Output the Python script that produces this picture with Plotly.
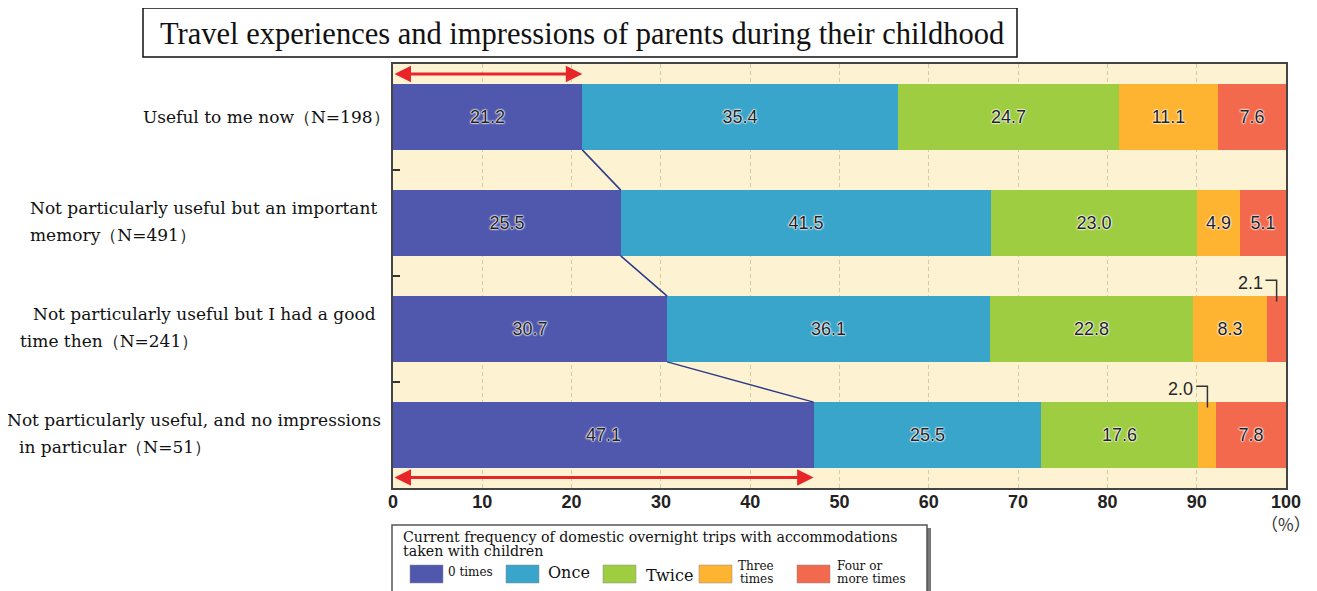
import plotly.graph_objects as go

# ---------------- data ----------------
categories = [
    "Useful to me now（N=198）",
    "Not particularly useful but an important memory（N=491）",
    "Not particularly useful but I had a good time then（N=241）",
    "Not particularly useful, and no impressions in particular（N=51）",
]
label_lines = [
    ["Useful to me now（N=198）"],
    ["Not particularly useful but an important", "memory（N=491）"],
    ["Not particularly useful but I had a good", "time then（N=241）"],
    ["Not particularly useful, and no impressions", "in particular（N=51）"],
]
series_names = ["0 times", "Once", "Twice", "Three times", "Four or more times"]
legend_labels = [["0 times"], ["Once"], ["Twice"], ["Three", "times"], ["Four or", "more times"]]
zero_times = [21.2, 25.5, 30.7, 47.1]
once = [35.4, 41.5, 36.1, 25.5]
twice = [24.7, 23.0, 22.8, 17.6]
three_times = [11.1, 4.9, 8.3, 2.0]
four_plus = [7.6, 5.1, 2.1, 7.8]
x_ticks = [0, 10, 20, 30, 40, 50, 60, 70, 80, 90, 100]
title_text = "Travel experiences and impressions of parents during their childhood"
legend_title = ["Current frequency of domestic overnight trips with accommodations",
                "taken with children"]

# ---------------- style ----------------
colors = ["#5058ae", "#3aa5ca", "#9fcd42", "#ffb431", "#f3694d"]
OFF = 8                      # page body margin
W, H = 1317 - OFF, 591 - OFF
SL, ST, PW, PH = 393, 64, 893, 424   # plot area in screen pixels
L, T = SL - OFF, ST - OFF
BAR_W = 0.62
SERIF = "DejaVu Serif"
SANS = "Liberation Sans, Arial, sans-serif"
SMALL = 3.0  # segments narrower than this get a callout


def px_x(p):
    return (p - SL) / PW


def px_y(p):
    return (ST + PH - p) / PH


series = [zero_times, once, twice, three_times, four_plus]
rows = list(range(len(categories)))

fig = go.Figure()
halo = "0 0 2px #fff, 0 0 2px #fff, 0 0 2px #fff, 0 0 1px #fff"
for name, vals, col in zip(series_names, series, colors):
    fig.add_trace(go.Bar(
        y=rows, x=vals, orientation="h", name=name, width=BAR_W,
        marker=dict(color=col, line=dict(width=0)),
        text=[f"{v:.1f}" if v >= SMALL else "" for v in vals],
        textposition="inside", insidetextanchor="middle", textangle=0,
        insidetextfont=dict(family=SANS, size=18, color="#222", shadow=halo),
        hovertext=categories, showlegend=False,
    ))

# connector lines between the right ends of the "0 times" segments
cx, cy = [], []
for i in range(len(rows) - 1):
    cx += [zero_times[i], zero_times[i + 1], None]
    cy += [rows[i] + BAR_W / 2, rows[i + 1] - BAR_W / 2, None]
fig.add_trace(go.Scatter(x=cx, y=cy, mode="lines", line=dict(color="#2c3a8a", width=1.5),
                         showlegend=False, hoverinfo="skip"))

shapes = []
annotations = []

# callouts for narrow segments
for ri in rows:
    start = 0.0
    for si, vals in enumerate(series):
        v = vals[ri]
        if v < SMALL:
            xc = start + v / 2
            top = ri - BAR_W / 2
            yh = top - 0.15
            shapes.append(dict(type="path", xref="x", yref="y",
                               path=f"M {xc - 1.25},{yh} L {xc},{yh} L {xc},{top + 0.05}",
                               line=dict(color="#333", width=1.5)))
            annotations.append(dict(x=xc - 1.35, y=top - 0.12, xref="x", yref="y",
                                    text=f"{v:.1f}", showarrow=False, xanchor="right",
                                    yanchor="middle",
                                    font=dict(family=SANS, size=18, color="#262626")))
        start += v

# red double-headed arrows (first and last rows' "0 times")
for ri, yy in [(0, -0.5 + 0.095), (len(rows) - 1, len(rows) - 0.5 - 0.1)]:
    annotations.append(dict(x=zero_times[ri], y=yy, ax=0, ay=yy, xref="x", yref="y",
                            axref="x", ayref="y", text="", showarrow=True,
                            arrowside="end+start", arrowhead=2, arrowsize=1.1,
                            arrowwidth=3, arrowcolor="#e8262a", standoff=0,
                            startstandoff=0))

# category labels
first_right = [392, 379, 378, 383]
second_left = [None, 28, 18, 17]
LBL = dict(family=SERIF, size=17, color="#111")
for ri, lines in enumerate(label_lines):
    if len(lines) == 1:
        annotations.append(dict(x=px_x(first_right[ri]), y=ri, xref="paper", yref="y",
                                text=lines[0], showarrow=False, xanchor="right",
                                yanchor="middle", font=LBL))
    else:
        annotations.append(dict(x=px_x(first_right[ri]), y=ri, yshift=15, xref="paper",
                                yref="y", text=lines[0], showarrow=False, xanchor="right",
                                yanchor="middle", font=LBL))
        annotations.append(dict(x=px_x(second_left[ri]), y=ri, yshift=-12, xref="paper",
                                yref="y", text=lines[1], showarrow=False, xanchor="left",
                                yanchor="middle", font=LBL))

# (%) unit label
annotations.append(dict(x=100, y=px_y(523), xref="x", yref="paper", text="（%）",
                        showarrow=False, xanchor="center", yanchor="middle",
                        font=dict(family="Noto Sans CJK JP", size=17, color="#333")))

# title box
shapes.append(dict(type="rect", xref="paper", yref="paper", x0=px_x(143), x1=px_x(1017),
                   y0=px_y(57), y1=px_y(8), line=dict(color="#111", width=1.5),
                   fillcolor="rgba(0,0,0,0)"))

# custom legend box
shapes.append(dict(type="rect", xref="paper", yref="paper", x0=px_x(395), x1=px_x(931),
                   y0=px_y(600), y1=px_y(528), line=dict(width=0), fillcolor="#777",
                   layer="above"))
shapes.append(dict(type="rect", xref="paper", yref="paper", x0=px_x(392), x1=px_x(927),
                   y0=px_y(598), y1=px_y(525), line=dict(color="#555", width=1.5),
                   fillcolor="#fff", layer="above"))
for li, ty in enumerate([536.5, 551]):
    annotations.append(dict(x=px_x(401), y=px_y(ty), xref="paper", yref="paper",
                            text=legend_title[li], showarrow=False, xanchor="left",
                            yanchor="middle", font=dict(family=SERIF, size=14.2, color="#111")))
sw_left = [410, 506, 603, 699, 797]
txt_left = [446, 546, 644, 737, 835]
txt_size = [12, 16, 16, 12, 12]
txt_y = [572, 572, 575, 566, 566]
for i, lab in enumerate(legend_labels):
    shapes.append(dict(type="rect", xref="paper", yref="paper", x0=px_x(sw_left[i]),
                       x1=px_x(sw_left[i] + 33), y0=px_y(583), y1=px_y(565),
                       line=dict(color="#888", width=0.5), fillcolor=colors[i], layer="above"))
    for li, line in enumerate(lab):
        xpos = txt_left[i]
        anchor = "left"
        if i == 3:
            xpos, anchor = 756, "center"
        annotations.append(dict(x=px_x(xpos), y=px_y(txt_y[i] + 12.5 * li), xref="paper",
                                yref="paper", text=line, showarrow=False, xanchor=anchor,
                                yanchor="middle",
                                font=dict(family=SERIF, size=txt_size[i], color="#111")))

fig.update_layout(
    width=W, height=H,
    margin=dict(l=L, r=W - L - PW, t=T, b=H - T - PH),
    barmode="stack", bargap=0,
    paper_bgcolor="#ffffff", plot_bgcolor="#fdf3d2",
    showlegend=False,
    title=dict(text=title_text, x=(160 - OFF) / W, xanchor="left", xref="container",
               y=1 - (33 - OFF) / H, yanchor="middle", yref="container",
               font=dict(family="Liberation Serif, serif", size=30.5, color="#111")),
    xaxis=dict(range=[0, 100], tickvals=x_ticks, ticktext=[str(t) for t in x_ticks],
               showgrid=True, gridcolor="#d9c9a2", gridwidth=1, griddash="4px,3px",
               zeroline=False, showline=True, mirror=True, linecolor="#444", linewidth=2,
               ticks="", tickfont=dict(family=SANS, size=18, color="#222", weight="bold"),
               ticklabelstandoff=-4, fixedrange=True),
    yaxis=dict(range=[len(rows) - 0.5, -0.5], tickvals=[r + 0.5 for r in rows[:-1]],
               showticklabels=False, ticks="inside", ticklen=7, tickcolor="#333", tickwidth=1.5,
               showgrid=False, zeroline=False, showline=True, mirror=True, linecolor="#444",
               linewidth=2, fixedrange=True),
    shapes=shapes, annotations=annotations,
)

fig.write_html("out.html")
